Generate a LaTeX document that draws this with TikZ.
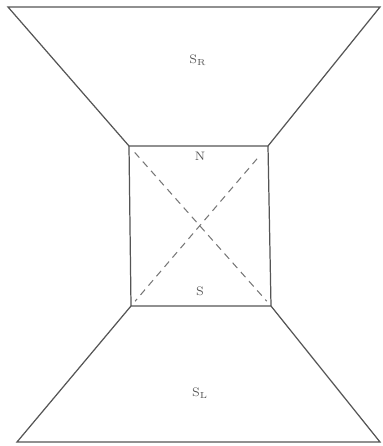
\documentclass[tikz,border=0pt]{standalone}
\usepackage{tikz}
\usetikzlibrary{positioning,calc}
\definecolor{inkGrey}{HTML}{555555}

\begin{document}
\begin{tikzpicture}[x=0.02cm,y=-0.02cm,font=\scriptsize,
      edge/.style={draw=inkGrey,line width=0.7pt,line join=miter},
      diag/.style={draw=inkGrey!80,line width=0.6pt,dash pattern=on 4pt off 3pt},
      lbl/.style={inner sep=1pt,text=inkGrey}]
    \useasboundingbox (0,0) rectangle (382,446);

    % corners
    \coordinate (tl)  at (8,7);
    \coordinate (tr)  at (380,7);
    \coordinate (nw)  at (129,146);
    \coordinate (ne)  at (268,146);
    \coordinate (sw)  at (131,306);
    \coordinate (se)  at (271,306);
    \coordinate (bl)  at (17,442);
    \coordinate (br)  at (380,442);

    \draw[edge] (tl) -- (tr) -- (ne) -- (nw) -- cycle;
    \draw[edge] (nw) -- (sw) -- (se) -- (ne);
    \draw[edge] (sw) -- (bl) -- (br) -- (se);

    \draw[diag] ($(nw)!0.04!(se)$) -- ($(nw)!0.97!(se)$);
    \draw[diag] ($(ne)!0.08!(sw)$) -- ($(ne)!0.97!(sw)$);

    \node[lbl] (sr) at (198,60)  {S$_{\mathrm{R}}$};
    \node[lbl] (n)  at (200,156) {N};
    \node[lbl] (s)  at (200,291) {S};
    \node[lbl] (sl) at (200,393) {S$_{\mathrm{L}}$};
  \end{tikzpicture}
\end{document}
